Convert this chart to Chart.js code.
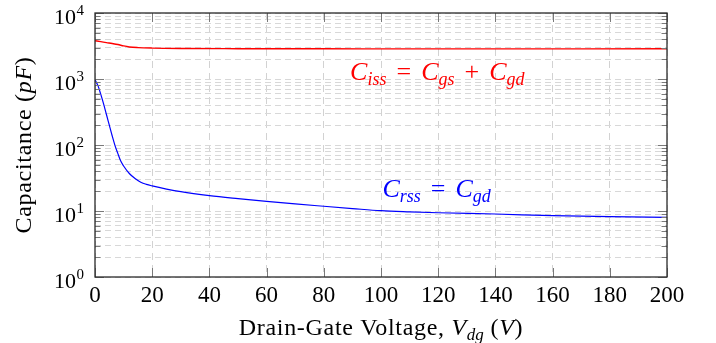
<!DOCTYPE html>
<html>
<head>
<meta charset="utf-8">
<title>Capacitance vs drain-gate voltage</title>
<script src="https://cdn.jsdelivr.net/npm/chart.js@4.4.1/dist/chart.umd.min.js"></script>
<style>
  html, body { margin: 0; padding: 0; background: #fff; }
  #wrap { width: 716px; height: 343px; }
</style>
</head>
<body>
<div id="wrap"><canvas id="chartCap" width="716" height="343"></canvas></div>
<script>
// Ciss = Cgs + Cgd (pF) against Vdg (V)
const vCiss = [0, 2, 4, 6, 8, 10, 12, 15, 20, 30, 50, 80, 120, 160, 200];
const ciss = [3800, 3680, 3560, 3450, 3330, 3170, 3060, 2990, 2940, 2900, 2880, 2870, 2860, 2860, 2870];

// Crss = Cgd (pF) against Vdg (V)
const vCrss = [0, 1, 2, 3, 4, 5, 6, 7, 8, 9, 10, 12, 14, 16, 18, 20, 25, 30, 40, 50, 60, 70, 80, 90, 100, 110, 120, 140, 160, 180, 200];
const crss = [970, 800, 590, 420, 290, 200, 138, 98, 74, 57, 48, 37, 31, 27.3, 25.3, 24, 21.5, 19.6, 17.1, 15.4, 14.0, 12.8, 11.8, 10.9, 10.1, 9.7, 9.4, 9.0, 8.5, 8.2, 8.0];

const xTicks = [0, 20, 40, 60, 80, 100, 120, 140, 160, 180, 200];
const yDecades = [1, 10, 100, 1000, 10000];
const yExponents = ['0', '1', '2', '3', '4'];

// every 1..9 step of each decade gets a grid line
const yGrid = [];
yDecades.slice(0, -1).forEach(d => {
    for (let k = 1; k <= 9; k++) yGrid.push(d * k);
});
yGrid.push(10000);

const SERIF = "'Liberation Serif', 'DejaVu Serif', serif";

// draws a list of text runs left to right, returns the total width
function drawRuns(ctx, x, y, runs, measureOnly) {
    let cx = x;
    runs.forEach(r => {
        ctx.font = r.font;
        ctx.letterSpacing = r.ls || '0px';
        cx += r.gapBefore || 0;
        if (!measureOnly) ctx.fillText(r.t, cx, y + (r.dy || 0));
        cx += ctx.measureText(r.t).width + (r.gapAfter || 0);
    });
    ctx.letterSpacing = '0px';
    return cx - x;
}

const rm = s => ({ t: s, font: '24px ' + SERIF, ls: '0.7px' });
const it = s => ({ t: s, font: 'italic 24px ' + SERIF, ls: '0.7px' });
const sub = s => ({ t: s, font: 'italic 17px ' + SERIF, dy: 5 });
const mC = () => ({ t: 'C', font: 'italic 26px ' + SERIF });
const msub = s => ({ t: s, font: 'italic 18px ' + SERIF, dy: 5 });
const op = s => ({ t: s, font: '26px ' + SERIF, gapBefore: 10, gapAfter: 10 });

const cissLabel = [mC(), msub('iss'), op('='), mC(), msub('gs'), op('+'), mC(), msub('gd')];
const crssLabel = [mC(), msub('rss'), op('='), mC(), msub('gd')];

const axisDecor = {
    id: 'axisDecor',
    afterDatasetsDraw(chart) {
        const ctx = chart.ctx;
        const a = chart.chartArea;
        const xs = chart.scales.x, ys = chart.scales.y;
        ctx.save();

        // inward tick marks, mirrored on all four sides
        ctx.strokeStyle = '#7a7a7a';
        ctx.lineWidth = 1;
        ctx.beginPath();
        yGrid.forEach(v => {
            const py = Math.round(ys.getPixelForValue(v)) + 0.5;
            const len = yDecades.includes(v) ? 9 : 5.5;
            ctx.moveTo(a.left, py); ctx.lineTo(a.left + len, py);
            ctx.moveTo(a.right, py); ctx.lineTo(a.right - len, py);
        });
        xTicks.forEach(v => {
            const px = Math.round(xs.getPixelForValue(v)) + 0.5;
            ctx.moveTo(px, a.bottom); ctx.lineTo(px, a.bottom - 9);
            ctx.moveTo(px, a.top); ctx.lineTo(px, a.top + 9);
        });
        ctx.stroke();

        // frame
        ctx.strokeStyle = '#2a2a2a';
        ctx.lineWidth = 1.3;
        ctx.strokeRect(a.left, a.top, a.right - a.left, a.bottom - a.top);
        ctx.restore();
    },
    afterDraw(chart) {
        const ctx = chart.ctx;
        const a = chart.chartArea;
        const xs = chart.scales.x, ys = chart.scales.y;
        ctx.save();
        ctx.fillStyle = '#000';
        ctx.textBaseline = 'alphabetic';

        // x tick labels
        ctx.font = '23px ' + SERIF;
        ctx.textAlign = 'center';
        xTicks.forEach(v => {
            ctx.fillText(String(v), xs.getPixelForValue(v), a.bottom + 25);
        });

        // y tick labels: 10 with a raised exponent
        ctx.textAlign = 'left';
        yDecades.forEach((v, i) => {
            const py = ys.getPixelForValue(v);
            ctx.font = '15px ' + SERIF;
            const ew = ctx.measureText(yExponents[i]).width;
            const ex = a.left - 11 - ew;
            ctx.fillText(yExponents[i], ex, py + 2);
            ctx.font = '22px ' + SERIF;
            const bw = ctx.measureText('10').width;
            ctx.fillText('10', ex - bw - 0.5, py + 11);
        });

        // x axis title
        const xTitle = [rm('Drain-Gate Voltage, '), it('V'), sub('dg'), rm(' ('), it('V'), rm(')')];
        const xw = drawRuns(ctx, 0, 0, xTitle, true);
        drawRuns(ctx, (a.left + a.right) / 2 - xw / 2, a.bottom + 58, xTitle);

        // y axis title, rotated
        const yTitle = [rm('Capacitance ('), it('pF'), rm(')')];
        const yw = drawRuns(ctx, 0, 0, yTitle, true);
        ctx.save();
        ctx.translate(31, (a.top + a.bottom) / 2);
        ctx.rotate(-Math.PI / 2);
        drawRuns(ctx, -yw / 2, 0, yTitle);
        ctx.restore();

        // curve labels
        ctx.fillStyle = '#ff0000';
        drawRuns(ctx, xs.getPixelForValue(89.2), ys.getPixelForValue(960), cissLabel);
        ctx.fillStyle = '#0000ff';
        drawRuns(ctx, xs.getPixelForValue(100.5), ys.getPixelForValue(16.3), crssLabel);

        ctx.restore();
    }
};

const ctxCap = document.getElementById('chartCap');
const chartCap = new Chart(ctxCap, {
    type: 'line',
    data: {
        datasets: [{
            label: 'Ciss',
            data: vCiss.map((v, i) => ({ x: v, y: ciss[i] })),
            borderColor: '#ff0000',
            borderWidth: 1.4,
            pointRadius: 0,
            cubicInterpolationMode: 'monotone',
            fill: false
        }, {
            label: 'Crss',
            data: vCrss.map((v, i) => ({ x: v, y: crss[i] })),
            borderColor: '#0000ff',
            borderWidth: 1.2,
            pointRadius: 0,
            cubicInterpolationMode: 'monotone',
            fill: false
        }]
    },
    options: {
        responsive: false,
        animation: false,
        events: [],
        layout: {
            padding: { left: 95, right: 49, top: 13, bottom: 66 }
        },
        plugins: {
            legend: { display: false },
            tooltip: { enabled: false }
        },
        scales: {
            x: {
                type: 'linear',
                min: 0,
                max: 200,
                afterBuildTicks: s => { s.ticks = xTicks.map(v => ({ value: v })); },
                ticks: { display: false },
                grid: { color: '#d2d2d2', lineWidth: 1, drawTicks: false },
                border: { display: false, dash: [7, 5] }
            },
            y: {
                type: 'logarithmic',
                min: 1,
                max: 10000,
                afterBuildTicks: s => { s.ticks = yGrid.map(v => ({ value: v })); },
                ticks: { display: false },
                grid: { color: '#d8d8d8', lineWidth: 1, drawTicks: false },
                border: { display: false, dash: [6, 4] }
            }
        }
    },
    plugins: [axisDecor]
});
</script>
</body>
</html>
